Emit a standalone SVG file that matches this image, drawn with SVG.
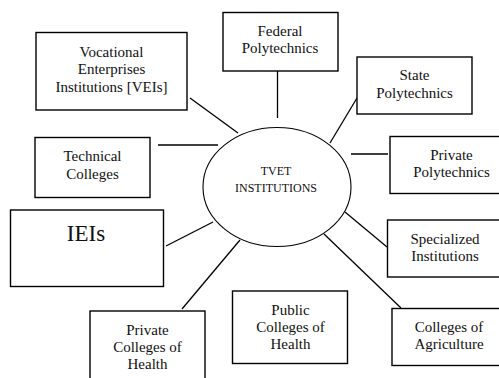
<svg xmlns="http://www.w3.org/2000/svg" width="499" height="378" viewBox="0 0 499 378">
<style>
.box{fill:#fff;stroke:#000;stroke-width:1.4}
.conn line{stroke:#000;stroke-width:1.3}
</style>
<rect width="499" height="378" fill="#fff"/>
<g id="connectors" class="conn">
<line x1="277.5" y1="71" x2="277.5" y2="118"/>
<line x1="357" y1="98" x2="330" y2="143"/>
<line x1="351" y1="154" x2="388" y2="154"/>
<line x1="345" y1="212" x2="387" y2="247"/>
<line x1="324" y1="234" x2="401" y2="308"/>
<line x1="240" y1="240" x2="182" y2="309"/>
<line x1="213" y1="222" x2="166" y2="246"/>
<line x1="158" y1="145" x2="218" y2="145"/>
<line x1="190" y1="98" x2="238" y2="133"/>
</g>
<g font-family="Liberation Serif, Times New Roman, serif" font-size="15" fill="#111" text-anchor="middle">
<g id="tvet">
<ellipse cx="277" cy="187" rx="74" ry="59.5" fill="#fff" stroke="#000" stroke-width="1.1"/>
<text x="276" y="175" font-size="12">TVET</text>
<text x="276" y="192" font-size="12">INSTITUTIONS</text>
</g>
<g id="federal">
<rect class="box" x="223" y="12.5" width="115" height="58.5"/>
<text x="280" y="36">Federal</text>
<text x="280" y="52.5">Polytechnics</text>
</g>
<g id="state">
<rect class="box" x="357" y="57" width="115" height="57"/>
<text x="414.5" y="80">State</text>
<text x="414.5" y="97.5">Polytechnics</text>
</g>
<g id="private-poly">
<rect class="box" x="390" y="136.5" width="130" height="57"/>
<text x="451.5" y="159.5">Private</text>
<text x="451.5" y="177">Polytechnics</text>
</g>
<g id="specialized">
<rect class="box" x="387.5" y="220" width="130" height="57"/>
<text x="445" y="244">Specialized</text>
<text x="445" y="260.5">Institutions</text>
</g>
<g id="agriculture">
<rect class="box" x="392" y="308.5" width="130" height="57"/>
<text x="449" y="332">Colleges of</text>
<text x="449" y="349">Agriculture</text>
</g>
<g id="public-health">
<rect class="box" x="232.5" y="291" width="115" height="72.5"/>
<text x="290.5" y="315">Public</text>
<text x="290.5" y="332">Colleges of</text>
<text x="290.5" y="349">Health</text>
</g>
<g id="private-health">
<rect class="box" x="90" y="311" width="115" height="80"/>
<text x="147.5" y="334.5">Private</text>
<text x="147.5" y="351.5">Colleges of</text>
<text x="147.5" y="369">Health</text>
</g>
<g id="ieis">
<rect class="box" x="10.5" y="210" width="153" height="76.5"/>
<text x="86" y="240.5" font-size="23">IEIs</text>
</g>
<g id="technical">
<rect class="box" x="35" y="137.5" width="115" height="60"/>
<text x="92.5" y="161">Technical</text>
<text x="92.5" y="178.5">Colleges</text>
</g>
<g id="veis">
<rect class="box" x="36" y="32.5" width="151" height="77.5"/>
<text x="111.5" y="56.5">Vocational</text>
<text x="111.5" y="74">Enterprises</text>
<text x="111.5" y="91.5">Institutions [VEIs]</text>
</g>
</g>
</svg>
